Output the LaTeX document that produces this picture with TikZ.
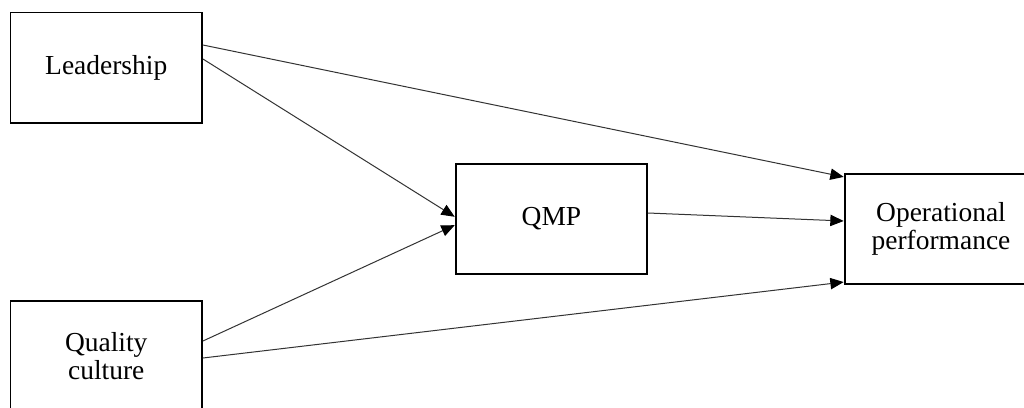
\documentclass[tikz,border=0pt]{standalone}
\usepackage{fontspec}
\setmainfont{Liberation Serif}
\usetikzlibrary{arrows.meta,calc}
\tikzset{
  boxnode/.style={draw=black, line width=1.4pt, rectangle, align=center, inner sep=0pt,
    font=\fontsize{20.6}{21}\selectfont},
  conn/.style={draw=black!80, line width=0.75pt, -{Triangle[length=10pt,width=8.5pt,black]}, shorten >=0.3pt}
}
\begin{document}
\begin{tikzpicture}[x=0.75pt,y=-0.75pt]
\useasboundingbox (0,0) rectangle (1024,407);
\clip (0,0) rectangle (1024,407);
\fill[white] (0,0) rectangle (1024,407);
\node[boxnode, minimum width=191.5*0.75pt, minimum height=110.5*0.75pt] (lead) at (106.25,67.75) {Leadership};
\node[boxnode, minimum width=191.5*0.75pt, minimum height=110.5*0.75pt] (qc) at (106.25,356.25) {Quality\\culture};
\node[boxnode, minimum width=191*0.75pt, minimum height=110*0.75pt] (qmp) at (551.5,219) {QMP};
\node[boxnode, minimum width=192*0.75pt, minimum height=110*0.75pt] (op) at (941,229) {Operational\\performance};
\draw[conn] ($(lead.east)+(0,-22.75)$) -- ($(op.west)+(0,-52)$);
\draw[conn] ($(lead.east)+(0,-8.75)$) -- ($(qmp.west)+(0,-2)$);
\draw[conn] ($(qc.east)+(0,-15.25)$) -- ($(qmp.west)+(0,6)$);
\draw[conn] ($(qc.east)+(0,1.75)$) -- ($(op.west)+(0,53)$);
\draw[conn] ($(qmp.east)+(0,-6)$) -- ($(op.west)+(0,-8)$);
\end{tikzpicture}
\end{document}
